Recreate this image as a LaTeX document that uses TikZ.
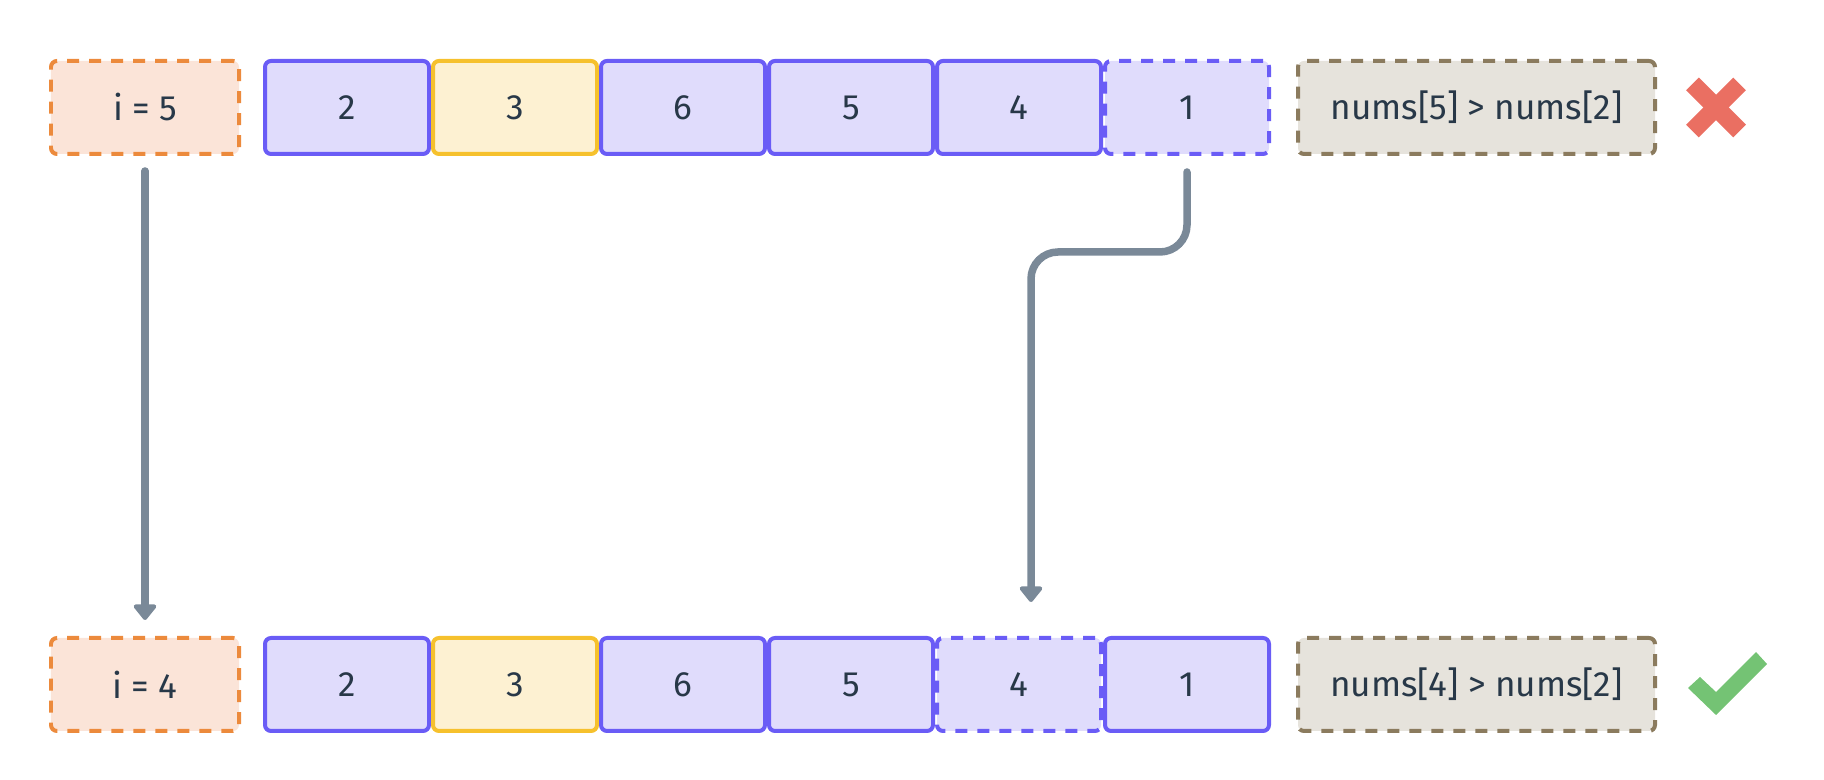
\documentclass[tikz,border=0pt]{standalone}
\usepackage{fontspec}
\setmainfont{Fira Sans}
\usetikzlibrary{positioning,arrows.meta}

\definecolor{ink}{HTML}{283848}
\definecolor{idxline}{HTML}{EC8A3C}
\definecolor{idxfill}{HTML}{FBE4D8}
\definecolor{cellline}{HTML}{6A5CF6}
\definecolor{cellfill}{HTML}{E0DCFC}
\definecolor{pivline}{HTML}{F6C12D}
\definecolor{pivfill}{HTML}{FDF1D2}
\definecolor{testline}{HTML}{8B7B5E}
\definecolor{testfill}{HTML}{E6E3DC}
\definecolor{linkcol}{HTML}{7A8998}
\definecolor{badcol}{HTML}{EA6F62}
\definecolor{goodcol}{HTML}{74C374}

\tikzset{
  box/.style={rounded corners=0.06cm, line width=0.04cm, minimum height=0.93cm,
    text=ink, inner sep=0pt},
  dashbox/.style={dash pattern=on 0.12cm off 0.1cm},
  idxbox/.style={box, dashbox, draw=idxline, fill=idxfill, minimum width=1.88cm},
  cellbox/.style={box, draw=cellline, fill=cellfill, minimum width=1.64cm},
  pivbox/.style={cellbox, draw=pivline, fill=pivfill},
  testbox/.style={box, dashbox, draw=testline, fill=testfill, minimum width=3.57cm},
  link/.style={draw=linkcol, line width=0.075cm, line cap=round,
    -{Triangle[width=0.26cm,length=0.17cm,round]}},
}

\begin{document}
\begin{tikzpicture}
  \useasboundingbox (0,0) rectangle (18.24,7.8);
  % top row
  \node[idxbox] (i5) at (1.45,6.725) {i = 5};
  \node[cellbox, right=0.22cm of i5] (t1) {2};
  \node[pivbox, right=0pt of t1] (t2) {3};
  \node[cellbox, right=0pt of t2] (t3) {6};
  \node[cellbox, right=0pt of t3] (t4) {5};
  \node[cellbox, right=0pt of t4] (t5) {4};
  \node[cellbox, dashbox, right=0pt of t5] (t6) {1};
  \node[testbox, right=0.25cm of t6] (c1) {nums[5] > nums[2]};
  % bottom row
  \node[idxbox] (i4) at (1.45,0.955) {i = 4};
  \node[cellbox, right=0.22cm of i4] (b1) {2};
  \node[pivbox, right=0pt of b1] (b2) {3};
  \node[cellbox, right=0pt of b2] (b3) {6};
  \node[cellbox, right=0pt of b3] (b4) {5};
  \node[cellbox, dashbox, right=0pt of b4] (b5) {4};
  \node[cellbox, right=0pt of b5] (b6) {1};
  \node[testbox, right=0.25cm of b6] (c2) {nums[4] > nums[2]};
  % moves
  \draw[link, shorten <=0.15cm, shorten >=0.16cm] (i5.south) -- (i4.north);
  \draw[link, rounded corners=0.27cm, shorten <=0.16cm, shorten >=0.34cm]
    (t6.south) -- ++(0,-0.96) -| ([xshift=0.12cm]b5.north);
  % marks
  \coordinate (xm) at ([xshift=0.59cm]c1.east);
  \draw[badcol, line width=0.18cm] ([shift={(-0.236,-0.236)}]xm) -- ([shift={(0.236,0.236)}]xm);
  \draw[badcol, line width=0.18cm] ([shift={(-0.236,0.236)}]xm) -- ([shift={(0.236,-0.236)}]xm);
  \coordinate (ok) at (c2.east);
  \fill[goodcol] ([shift={(0.31,-0.035)}]ok) -- ([shift={(0.59,-0.305)}]ok)
    -- ([shift={(1.10,0.205)}]ok) -- ([shift={(0.99,0.325)}]ok)
    -- ([shift={(0.59,-0.075)}]ok) -- ([shift={(0.43,0.075)}]ok) -- cycle;
\end{tikzpicture}
\end{document}
